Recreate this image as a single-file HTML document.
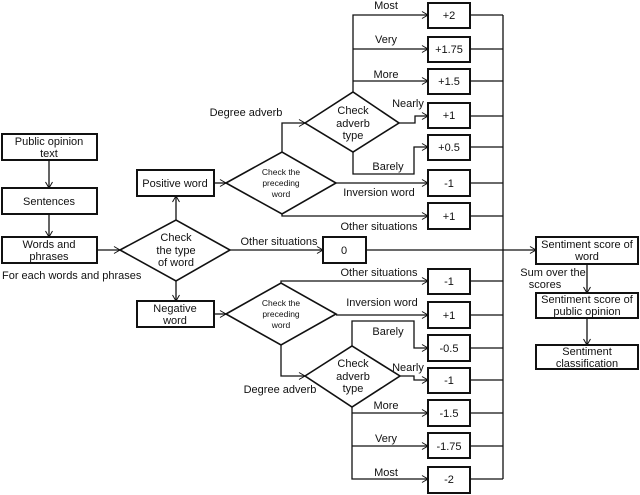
<!DOCTYPE html>
<html><head><meta charset="utf-8"><style>
html,body{margin:0;padding:0;background:#fff;}
svg{display:block;}
text{font-family:"Liberation Sans",Arial,sans-serif;fill:#111;}
</style></head><body>
<svg width="640" height="495" viewBox="0 0 640 495" xmlns="http://www.w3.org/2000/svg">
<defs>
<marker id="a" markerWidth="8" markerHeight="8" refX="7" refY="4" orient="auto" markerUnits="userSpaceOnUse">
<path d="M1,0.5 L7,4 L1,7.5" fill="none" stroke="#111" stroke-width="1"/>
</marker>
</defs>
<g fill="none" stroke="#111" stroke-width="1.3">
<!-- left boxes -->
<rect x="2" y="134" width="95" height="26" stroke-width="2"/>
<rect x="2" y="188" width="95" height="26" stroke-width="2"/>
<rect x="2" y="237" width="95" height="26" stroke-width="2"/>
<line x1="49" y1="160" x2="49" y2="188" marker-end="url(#a)"/>
<line x1="49" y1="214" x2="49" y2="237" marker-end="url(#a)"/>
<line x1="97" y1="250" x2="120" y2="250" marker-end="url(#a)"/>
<!-- check type diamond -->
<polygon points="120,250 176,220 230,250 176,281" stroke-width="1.6"/>
<line x1="176" y1="220" x2="176" y2="196" marker-end="url(#a)"/>
<line x1="176" y1="281" x2="176" y2="301" marker-end="url(#a)"/>
<rect x="137" y="170" width="77" height="26" stroke-width="2"/>
<rect x="137" y="301" width="77" height="26" stroke-width="2"/>
<line x1="230" y1="250" x2="323" y2="250" marker-end="url(#a)"/>
<rect x="323" y="237" width="43" height="26" stroke-width="2"/>
<line x1="366" y1="250" x2="536" y2="250" marker-end="url(#a)"/>
<!-- upper -->
<line x1="214" y1="183" x2="226" y2="183" marker-end="url(#a)"/>
<polygon points="226,183 282,152 336,183 282,214" stroke-width="1.6"/>
<polyline points="282,152 282,123 305,123" marker-end="url(#a)"/>
<polygon points="305,123 353,92 399,123 353,152" stroke-width="1.6"/>
<polyline points="353,92 353,15 428,15" marker-end="url(#a)"/>
<line x1="353" y1="49" x2="428" y2="49" marker-end="url(#a)"/>
<line x1="353" y1="81" x2="428" y2="81" marker-end="url(#a)"/>
<polyline points="399,123 415,123 415,116 428,116" marker-end="url(#a)"/>
<polyline points="353,152 353,174 414,174 414,147 428,147" marker-end="url(#a)"/>
<line x1="336" y1="183" x2="428" y2="183" marker-end="url(#a)"/>
<polyline points="282,214 282,216 428,216" marker-end="url(#a)"/>
<!-- lower -->
<line x1="214" y1="314" x2="226" y2="314" marker-end="url(#a)"/>
<polygon points="226,314 281,283 336,314 281,345" stroke-width="1.6"/>
<polyline points="281,283 281,281 428,281" marker-end="url(#a)"/>
<line x1="336" y1="315" x2="428" y2="315" marker-end="url(#a)"/>
<polyline points="281,345 281,376 305,376" marker-end="url(#a)"/>
<polygon points="305,376 352,346 400,376 352,407" stroke-width="1.6"/>
<polyline points="352,346 352,321 414,321 414,348 428,348" marker-end="url(#a)"/>
<polyline points="400,376 414,376 414,380 428,380" marker-end="url(#a)"/>
<polyline points="352,407 352,479 428,479" marker-end="url(#a)"/>
<line x1="352" y1="413" x2="428" y2="413" marker-end="url(#a)"/>
<line x1="352" y1="446" x2="428" y2="446" marker-end="url(#a)"/>
<!-- value boxes -->
<g stroke-width="2">
<rect x="428" y="3" width="42" height="25"/>
<rect x="428" y="37" width="42" height="25"/>
<rect x="428" y="69" width="42" height="25"/>
<rect x="428" y="103" width="42" height="25"/>
<rect x="428" y="135" width="42" height="25"/>
<rect x="428" y="170" width="42" height="26"/>
<rect x="428" y="203" width="42" height="26"/>
<rect x="428" y="269" width="42" height="25"/>
<rect x="428" y="302" width="42" height="26"/>
<rect x="428" y="335" width="42" height="26"/>
<rect x="428" y="368" width="42" height="25"/>
<rect x="428" y="400" width="42" height="26"/>
<rect x="428" y="433" width="42" height="25"/>
<rect x="428" y="467" width="42" height="26"/>
</g>
<line x1="503" y1="15" x2="503" y2="479"/>
<line x1="470" y1="15" x2="503" y2="15"/><line x1="470" y1="49" x2="503" y2="49"/>
<line x1="470" y1="81" x2="503" y2="81"/><line x1="470" y1="116" x2="503" y2="116"/>
<line x1="470" y1="147" x2="503" y2="147"/><line x1="470" y1="183" x2="503" y2="183"/>
<line x1="470" y1="216" x2="503" y2="216"/><line x1="470" y1="281" x2="503" y2="281"/>
<line x1="470" y1="315" x2="503" y2="315"/><line x1="470" y1="348" x2="503" y2="348"/>
<line x1="470" y1="380" x2="503" y2="380"/><line x1="470" y1="413" x2="503" y2="413"/>
<line x1="470" y1="446" x2="503" y2="446"/><line x1="470" y1="479" x2="503" y2="479"/>
<!-- right -->
<rect x="536" y="237" width="102" height="27" stroke-width="2"/>
<rect x="536" y="293" width="102" height="25" stroke-width="2"/>
<rect x="536" y="345" width="102" height="24" stroke-width="2"/>
<line x1="587" y1="264" x2="587" y2="293" marker-end="url(#a)"/>
<line x1="587" y1="318" x2="587" y2="345" marker-end="url(#a)"/>
</g>
<g font-size="11" text-anchor="middle">
<text x="49" y="145">Public opinion</text><text x="49" y="157">text</text>
<text x="49" y="205">Sentences</text>
<text x="49" y="248">Words and</text><text x="49" y="260">phrases</text>
<text x="2" y="279" text-anchor="start">For each words and phrases</text>
<text x="176" y="241">Check</text><text x="176" y="254">the type</text><text x="176" y="266">of word</text>
<text x="175" y="187">Positive word</text>
<text x="175" y="312">Negative</text><text x="175" y="324">word</text>
<text x="279" y="245">Other situations</text>
<text x="344" y="254">0</text>
<text x="246" y="116">Degree adverb</text>
<text x="353" y="114">Check</text><text x="353" y="127">adverb</text><text x="353" y="139">type</text>
<text x="386" y="9">Most</text><text x="386" y="43">Very</text><text x="386" y="78">More</text>
<text x="408" y="107">Nearly</text><text x="388" y="170">Barely</text>
<text x="379" y="196">Inversion word</text>
<text x="379" y="230">Other situations</text>
<text x="449" y="19">+2</text><text x="449" y="53">+1.75</text><text x="449" y="85">+1.5</text>
<text x="449" y="119">+1</text><text x="449" y="151">+0.5</text><text x="449" y="187">-1</text>
<text x="449" y="220">+1</text>
<text x="449" y="285">-1</text><text x="449" y="319">+1</text><text x="449" y="352">-0.5</text>
<text x="449" y="384">-1</text><text x="449" y="417">-1.5</text><text x="449" y="450">-1.75</text>
<text x="449" y="483">-2</text>
<text x="379" y="276">Other situations</text>
<text x="382" y="306">Inversion word</text>
<text x="388" y="335">Barely</text><text x="408" y="371">Nearly</text>
<text x="280" y="393">Degree adverb</text>
<text x="353" y="367">Check</text><text x="353" y="380">adverb</text><text x="353" y="392">type</text>
<text x="386" y="409">More</text><text x="386" y="442">Very</text><text x="386" y="476">Most</text>
<text x="587" y="248">Sentiment score of</text><text x="587" y="260">word</text>
<text x="553" y="276">Sum over the</text><text x="545" y="288">scores</text>
<text x="587" y="303">Sentiment score of</text><text x="587" y="315">public opinion</text>
<text x="587" y="355">Sentiment</text><text x="587" y="367">classification</text>
</g>
<g font-size="8.5" text-anchor="middle">
<text x="281" y="175">Check the</text><text x="281" y="186">preceding</text><text x="281" y="197">word</text>
<text x="281" y="306">Check the</text><text x="281" y="317">preceding</text><text x="281" y="328">word</text>
</g>
</svg>
</body></html>
